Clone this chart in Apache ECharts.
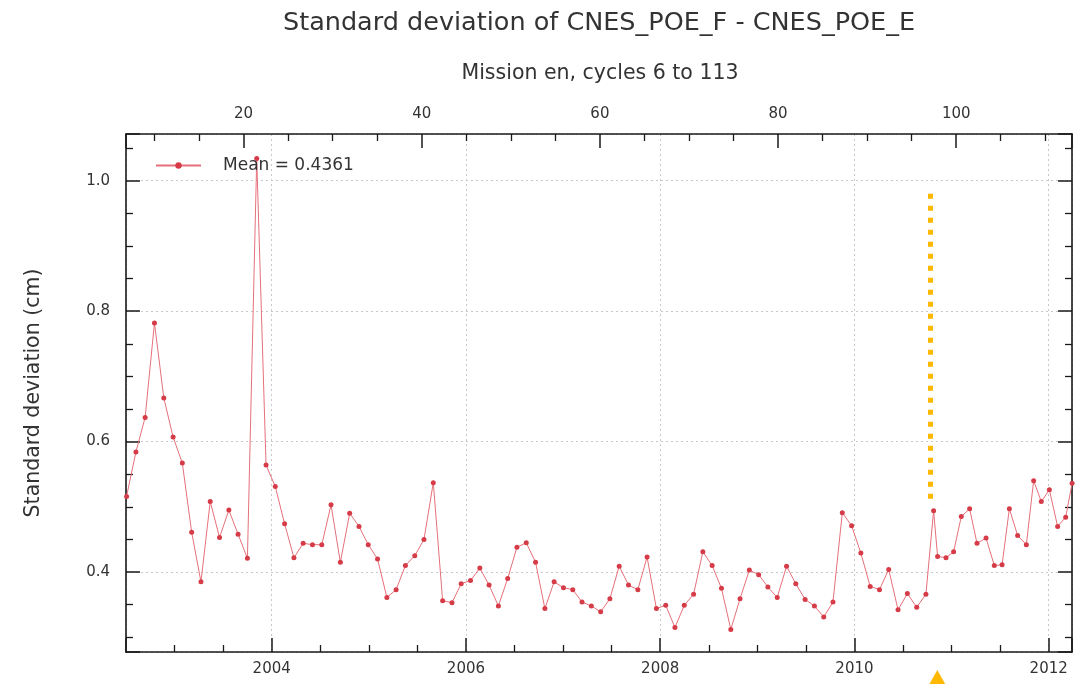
<!DOCTYPE html>
<html>
<head>
<meta charset="utf-8">
<title>Standard deviation of CNES_POE_F - CNES_POE_E</title>
<script src="https://cdn.jsdelivr.net/npm/echarts@6/dist/echarts.min.js"></script>
<style>
  html, body { margin: 0; padding: 0; background: #fff; }
  #chart { width: 1088px; height: 684px; }
</style>
</head>
<body>
<div id="chart"></div>
<script>
// date of each cycle (decimal years)
const dates = [
  2002.506, 2002.602, 2002.697, 2002.793, 2002.889, 2002.985, 2003.080, 2003.176, 2003.272, 2003.367,
  2003.463, 2003.559, 2003.654, 2003.750, 2003.846, 2003.942, 2004.037, 2004.133, 2004.229, 2004.324,
  2004.420, 2004.516, 2004.611, 2004.707, 2004.803, 2004.899, 2004.994, 2005.090, 2005.186, 2005.281,
  2005.377, 2005.473, 2005.568, 2005.664, 2005.760, 2005.856, 2005.951, 2006.047, 2006.143, 2006.238,
  2006.334, 2006.430, 2006.525, 2006.621, 2006.717, 2006.813, 2006.908, 2007.004, 2007.100, 2007.195,
  2007.291, 2007.387, 2007.482, 2007.578, 2007.674, 2007.770, 2007.865, 2007.961, 2008.057, 2008.152,
  2008.248, 2008.344, 2008.439, 2008.535, 2008.631, 2008.727, 2008.822, 2008.918, 2009.014, 2009.109,
  2009.205, 2009.301, 2009.396, 2009.492, 2009.588, 2009.684, 2009.779, 2009.875, 2009.971, 2010.066,
  2010.162, 2010.258, 2010.353, 2010.449, 2010.545, 2010.641, 2010.736, 2010.815, 2010.856, 2010.943,
  2011.021, 2011.100, 2011.186, 2011.262, 2011.355, 2011.440, 2011.520, 2011.595, 2011.680, 2011.770,
  2011.845, 2011.924, 2012.007, 2012.092, 2012.175, 2012.241
]
// standard deviation (cm)
const stdDev = [
  0.516, 0.584, 0.637, 0.782, 0.667, 0.607, 0.567, 0.461, 0.385, 0.508,
  0.453, 0.495, 0.458, 0.421, 1.034, 0.564, 0.531, 0.474, 0.422, 0.444,
  0.442, 0.442, 0.503, 0.415, 0.490, 0.470, 0.442, 0.420, 0.361, 0.373,
  0.410, 0.425, 0.450, 0.537, 0.356, 0.353, 0.382, 0.387, 0.406, 0.380,
  0.348, 0.390, 0.438, 0.445, 0.415, 0.344, 0.385, 0.376, 0.373, 0.354,
  0.348, 0.339, 0.359, 0.409, 0.380, 0.373, 0.423, 0.344, 0.349, 0.315,
  0.349, 0.366, 0.431, 0.410, 0.375, 0.312, 0.359, 0.403, 0.396, 0.377,
  0.361, 0.409, 0.382, 0.358, 0.348, 0.331, 0.354, 0.491, 0.471, 0.429,
  0.378, 0.373, 0.404, 0.342, 0.367, 0.346, 0.366, 0.494, 0.424, 0.422,
  0.431, 0.485, 0.497, 0.444, 0.452, 0.410, 0.411, 0.497, 0.456, 0.442,
  0.540, 0.508, 0.526, 0.470, 0.484, 0.536
]
const seriesName = 'Mean = 0.4361'
// axis ranges
const yearRange = [2002.5, 2012.24]
const cycleRange = [6.8, 113]
const valueRange = [0.2774, 1.0716]
// orange marker (orbit change)
const markYear = 2010.781
const markTop = 0.98
const markBottom = 0.512
const arrowYear = 2010.853

const font = 'DejaVu Sans'
const axisColor = '#1a1a1a'
const orange = '#FFB800'

const seriesData = dates.map((d, i) => [d, stdDev[i]])

const frameAxis = {
  axisLine: { show: true, onZero: false, lineStyle: { color: axisColor, width: 1.6 } },
  axisTick: { show: true, inside: true, length: 14, lineStyle: { color: axisColor, width: 1.5 } },
  minorTick: { show: true, splitNumber: 4, length: 7, lineStyle: { color: axisColor, width: 1.3 } },
  splitLine: { show: false }
}
const gridLine = { show: true, lineStyle: { color: '#c8c8c8', width: 1, type: [2, 3] } }
const labelStyle = { color: '#333', fontFamily: font, fontSize: 15 }

const chartInstance = echarts.init(document.getElementById('chart'))
const initOptions = {
  backgroundColor: '#fff',
  animation: false,
  title: [
    {
      text: 'Standard deviation of CNES_POE_F - CNES_POE_E',
      left: 594,
      top: 5,
      textAlign: 'center',
      textStyle: { fontFamily: font, fontSize: 25.5, fontWeight: 'normal', color: '#333' }
    },
    {
      text: 'Mission en, cycles 6 to 113',
      left: 595,
      top: 58,
      textAlign: 'center',
      textStyle: { fontFamily: font, fontSize: 20.5, fontWeight: 'normal', color: '#333' }
    }
  ],
  legend: {
    left: 150,
    top: 152,
    itemWidth: 45,
    itemHeight: 8,
    data: [seriesName],
    textStyle: { color: '#333', fontFamily: font, fontSize: 17, padding: [0, 0, 0, 17] }
  },
  grid: { left: 126, right: 16, top: 134, bottom: 32 },
  xAxis: [
    {
      type: 'value',
      position: 'bottom',
      min: yearRange[0],
      max: yearRange[1],
      splitNumber: 5,
      ...frameAxis,
      splitLine: gridLine,
      axisLabel: {
        ...labelStyle,
        margin: 10,
        showMinLabel: false,
        showMaxLabel: false,
        formatter: v => String(Math.round(v))
      }
    },
    {
      type: 'value',
      position: 'top',
      min: cycleRange[0],
      max: cycleRange[1],
      splitNumber: 5,
      ...frameAxis,
      axisLabel: {
        ...labelStyle,
        margin: 12,
        showMinLabel: false,
        showMaxLabel: false
      }
    }
  ],
  yAxis: [
    {
      type: 'value',
      position: 'left',
      min: valueRange[0],
      max: valueRange[1],
      splitNumber: 4,
      ...frameAxis,
      splitLine: gridLine,
      name: 'Standard deviation (cm)',
      nameLocation: 'middle',
      nameGap: 82,
      nameTextStyle: { color: '#333', fontFamily: font, fontSize: 20.5 },
      axisLabel: {
        ...labelStyle,
        margin: 16,
        showMinLabel: false,
        showMaxLabel: false,
        formatter: v => v.toFixed(1)
      }
    },
    {
      type: 'value',
      position: 'right',
      min: valueRange[0],
      max: valueRange[1],
      splitNumber: 4,
      ...frameAxis,
      axisLabel: { show: false }
    }
  ],
  series: [
    {
      name: seriesName,
      type: 'line',
      xAxisIndex: 0,
      yAxisIndex: 0,
      data: seriesData,
      symbol: 'circle',
      symbolSize: 5,
      showAllSymbol: true,
      lineStyle: { color: '#e5707a', width: 1 },
      itemStyle: { color: '#d63c48' },
      markLine: {
        silent: true,
        symbol: 'none',
        label: { show: false },
        lineStyle: { color: orange, width: 5, type: [5, 7], cap: 'butt' },
        data: [[{ coord: [markYear, markTop] }, { coord: [markYear, markBottom] }]]
      }
    }
  ]
}
chartInstance.setOption(initOptions)

// orange arrow head below the axis labels, placed from the year axis
const arrowX = chartInstance.convertToPixel({ xAxisIndex: 0 }, arrowYear)
chartInstance.setOption({
  graphic: [
    {
      type: 'polygon',
      silent: true,
      shape: { points: [[arrowX, 670], [arrowX - 9, 686], [arrowX + 9, 686]] },
      style: { fill: orange }
    }
  ]
})
</script>
</body>
</html>
